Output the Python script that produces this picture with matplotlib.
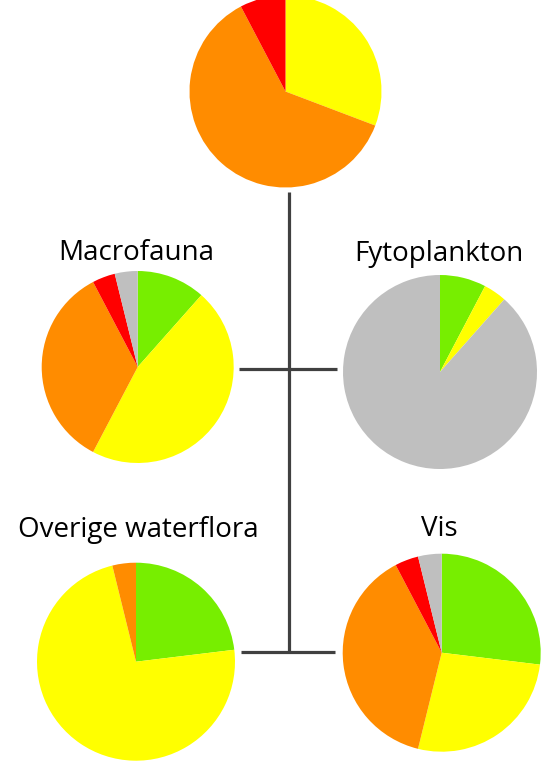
import matplotlib
matplotlib.use("Agg")
import matplotlib.pyplot as plt

W, H = 541, 764

# Category colours: goed, matig, ontoereikend, slecht, onbekend
colors = {"goed": "#77EE00", "matig": "#FFFF00", "ontoereikend": "#FF8C00",
          "slecht": "#FF0000", "onbekend": "#BFBFBF"}

# Data (counts per class), slices drawn clockwise from 12 o'clock
totaal_labels = ["matig", "ontoereikend", "slecht"]
totaal_values = [4, 8, 1]

macrofauna_labels = ["goed", "matig", "ontoereikend", "slecht", "onbekend"]
macrofauna_values = [3, 12, 9, 1, 1]

fytoplankton_labels = ["goed", "matig", "onbekend"]
fytoplankton_values = [2, 1, 23]

waterflora_labels = ["goed", "matig", "ontoereikend"]
waterflora_values = [6, 19, 1]

vis_labels = ["goed", "matig", "ontoereikend", "slecht", "onbekend"]
vis_values = [7, 7, 10, 1, 1]

titles = ["", "Macrofauna", "Fytoplankton", "Overige waterflora", "Vis"]

fig = plt.figure(figsize=(W / 100, H / 100), dpi=100)
ax = fig.add_axes([0, 0, 1, 1])

def Y(py):
    return H - py

# connector lines
lc = "#404040"
lw = 2.3
ax.plot([288.5, 288.5], [Y(192), Y(653)], color=lc, lw=lw, solid_capstyle="butt")
ax.plot([239, 337], [Y(368.7), Y(368.7)], color=lc, lw=lw, solid_capstyle="butt")
ax.plot([241, 335], [Y(652.2), Y(652.2)], color=lc, lw=lw, solid_capstyle="butt")

pies = [
    (totaal_labels, totaal_values, (285.5, 91.5), 96),
    (macrofauna_labels, macrofauna_values, (137.7, 367), 96),
    (fytoplankton_labels, fytoplankton_values, (440, 372), 97),
    (waterflora_labels, waterflora_values, (136, 661.7), 99),
    (vis_labels, vis_values, (441.7, 652.7), 99),
]
for labels, values, (cx, cy), r in pies:
    ax.pie(values, colors=[colors[l] for l in labels], startangle=90,
           counterclock=False, center=(cx, Y(cy)), radius=r,
           wedgeprops=dict(linewidth=0), frame=True)

ax.set_xlim(0, W)
ax.set_ylim(0, H)
ax.set_aspect("equal")
ax.axis("off")

title_pos = [None, (136, 253.5), (439, 253.5), (138, 530), (439, 529.5)]
for t, p in zip(titles, title_pos):
    if p is None:
        continue
    ax.text(p[0], Y(p[1]), t, ha="center", va="center", fontsize=20,
            family="Open Sans", color="#000000")

fig.savefig("out.png", dpi=100)
